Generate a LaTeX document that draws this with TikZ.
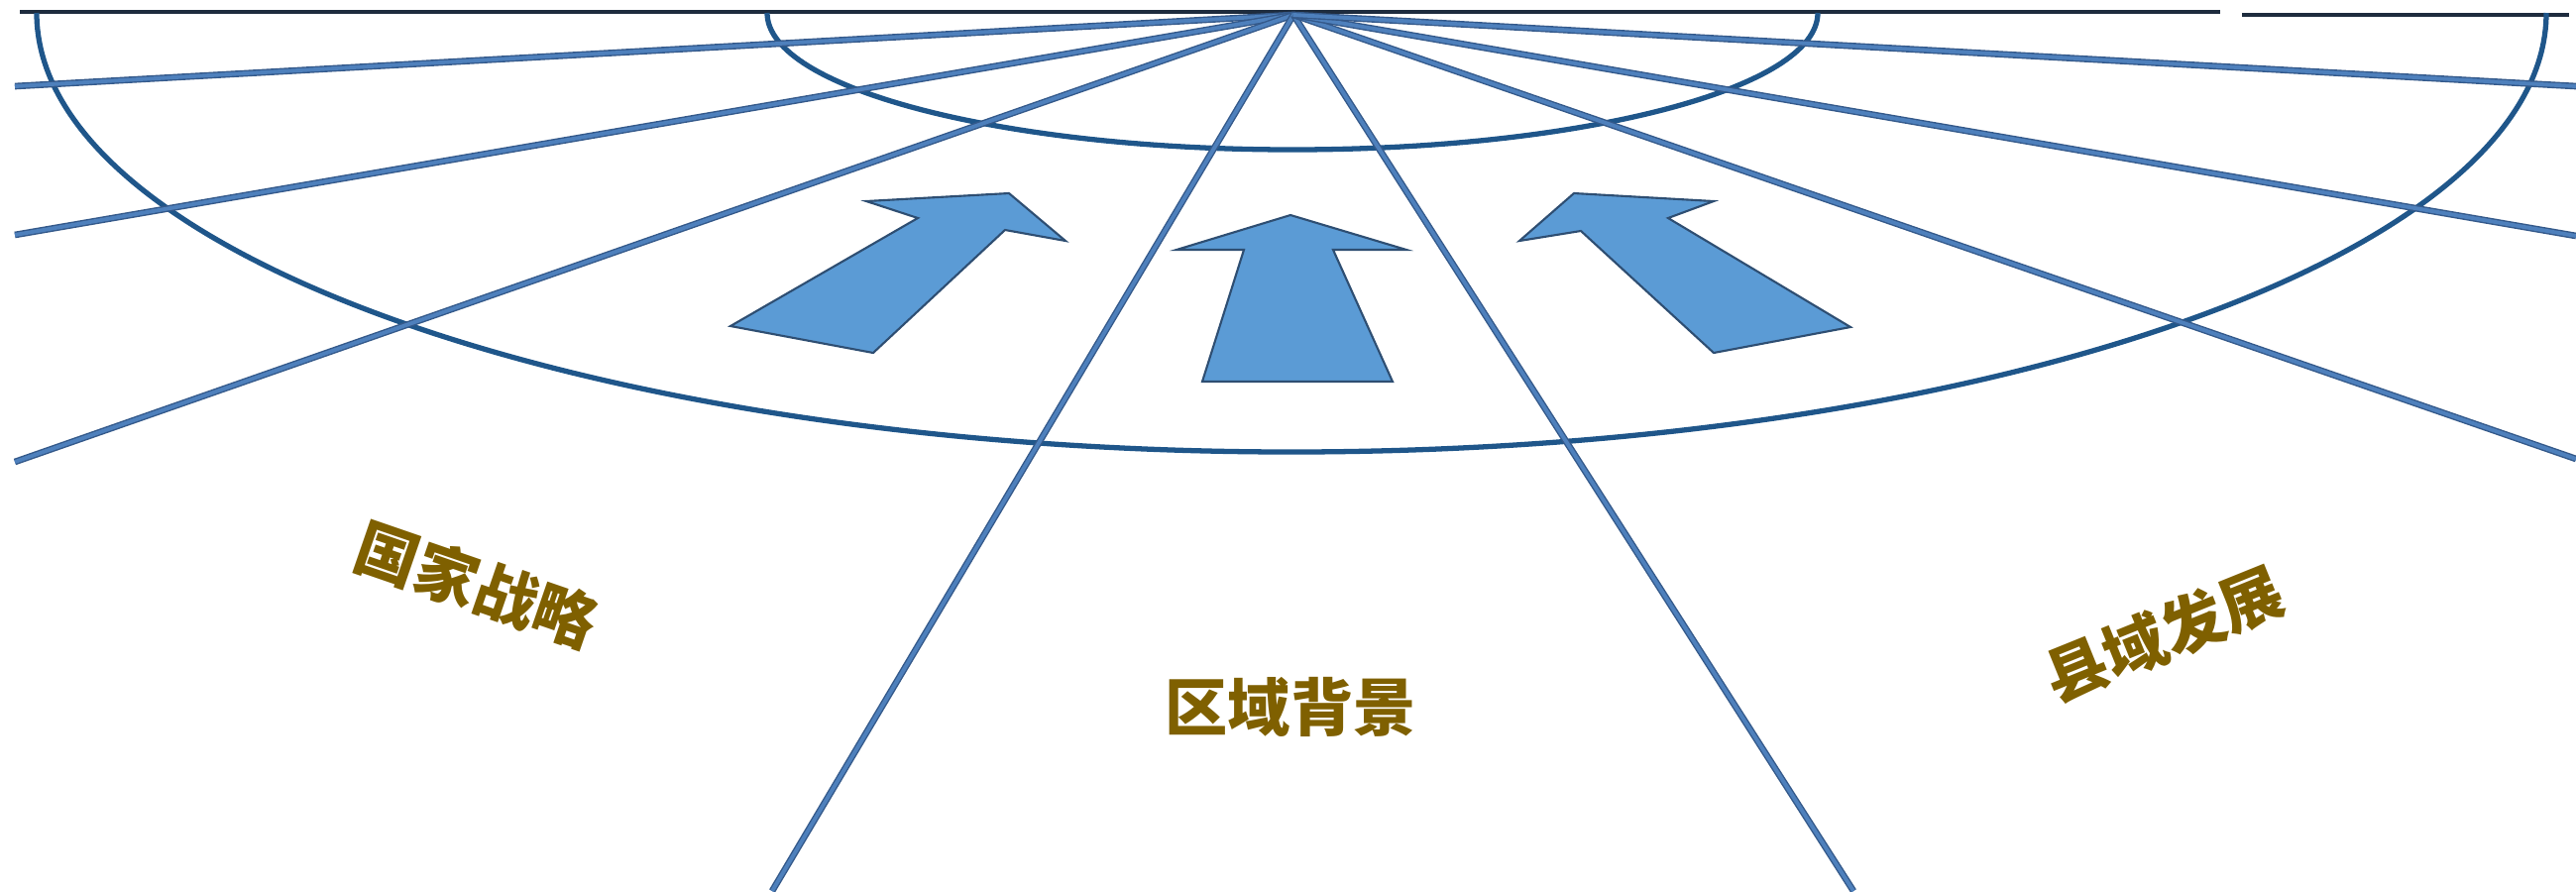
\documentclass[tikz,border=0pt]{standalone}
\usepackage{fontspec}
\newfontfamily\cjk{Noto Sans CJK SC}
\begin{document}
\begin{tikzpicture}[x=0.01cm,y=-0.01cm,
  rayline/.style={draw=raydark,line width=1.9pt,postaction={draw=raylight,line width=1.1pt}},
  rimline/.style={draw=rimcolor,line width=1.5pt},
  bigarrow/.style={fill=arrowfill,draw=arrowedge,line width=0.6pt,line join=miter},
  zonetext/.style={text=textcolor,font=\cjk\bfseries\fontsize{18pt}{18pt}\selectfont,inner sep=0pt}]
 \definecolor{raydark}{HTML}{34598A}
 \definecolor{raylight}{HTML}{4E80BC}
 \definecolor{rimcolor}{HTML}{1F568A}
 \definecolor{topcolor}{HTML}{1E2C3E}
 \definecolor{arrowfill}{HTML}{5B9BD5}
 \definecolor{arrowedge}{HTML}{2E4E72}
 \definecolor{textcolor}{HTML}{7F6000}
 \useasboundingbox (0,0) rectangle (2599,899);
 % horizon and the two half ellipses
 \draw [topcolor,line width=1.3pt] (20,12) -- (2240,12);
 \draw [topcolor,line width=1.3pt] (2262,15) -- (2592,15);
 \draw [rimline] (37,13) arc (180:0:1266 and 443);
 \draw [rimline] (774,13) arc (180:0:530 and 138);
 % rays from the vanishing point
 \coordinate (apex) at (1305,15);
 \coordinate (w1) at (15,87);
 \coordinate (w2) at (15,237);
 \coordinate (w3) at (15,466);
 \coordinate (s1) at (779,899);
 \coordinate (s2) at (1870,899);
 \coordinate (e3) at (2599,463);
 \coordinate (e2) at (2599,238);
 \coordinate (e1) at (2599,87);
 \draw [rayline] (apex) -- (w1);
 \draw [rayline] (apex) -- (w2);
 \draw [rayline] (apex) -- (w3);
 \draw [rayline] (apex) -- (s1);
 \draw [rayline] (apex) -- (s2);
 \draw [rayline] (apex) -- (e3);
 \draw [rayline] (apex) -- (e2);
 \draw [rayline] (apex) -- (e1);
 % arrows
 \draw [bigarrow] (1018,195) -- (1075,243) -- (1014,232) -- (881,356) -- (737,329) -- (926,220) -- (874,203) -- cycle;
 \draw [bigarrow] (1302,217) -- (1419,252) -- (1345,252) -- (1405,385) -- (1213,385) -- (1255,252) -- (1187,252) -- cycle;
 \draw [bigarrow] (1588,195) -- (1533,243) -- (1595,233) -- (1729,356) -- (1867,330) -- (1683,220) -- (1729,203) -- cycle;
 % labels
 \node [zonetext,rotate=-19] (guojia) at (481,590) {国家战略};
 \node [zonetext] (quyu) at (1302,713) {区域背景};
 \node [zonetext,rotate=22] (xianyu) at (2183,640) {县域发展};
\end{tikzpicture}
\end{document}
